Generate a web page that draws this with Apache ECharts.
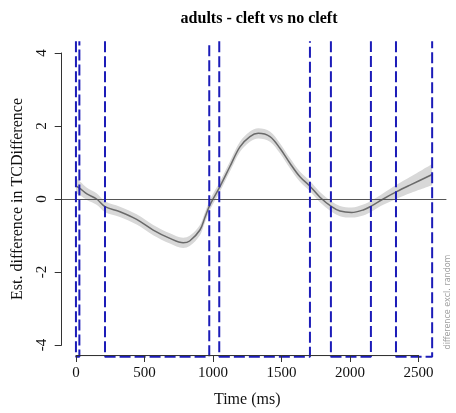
<!DOCTYPE html>
<html>
<head>
<meta charset="utf-8">
<script src="https://cdn.jsdelivr.net/npm/echarts@6/dist/echarts.min.js"></script>
<style>
  html, body { margin: 0; padding: 0; background: #fff; }
  #chart { width: 456px; height: 413px; }
</style>
</head>
<body>
<div id="chart"></div>
<script>
// Estimated difference curve (adults, cleft vs no cleft)
const timeMs = [0, 29, 80, 151, 212, 321, 443, 564, 686, 783, 830, 905, 942, 978, 1051, 1124, 1197, 1270,
                1331, 1416, 1489, 1562, 1635, 1708, 1781, 1866, 1927, 2012, 2097, 2158, 2243, 2341, 2438, 2600];
const estimate = [0.36, 0.29, 0.14, 0.00, -0.21, -0.35, -0.56, -0.85, -1.08, -1.20, -1.15, -0.85, -0.50, -0.16, 0.34, 0.89, 1.43, 1.71,
                  1.80, 1.71, 1.39, 0.98, 0.61, 0.35, 0.05, -0.21, -0.33, -0.37, -0.30, -0.19, 0.00, 0.20, 0.38, 0.67];
const ciHalfWidth = [0.20, 0.19, 0.17, 0.16, 0.15, 0.14, 0.14, 0.14, 0.14, 0.14, 0.14, 0.14, 0.14, 0.14, 0.14, 0.14, 0.14, 0.14,
                     0.14, 0.14, 0.14, 0.14, 0.14, 0.14, 0.14, 0.14, 0.14, 0.14, 0.15, 0.15, 0.16, 0.19, 0.22, 0.29];

// Windows where the difference is significant
const sigStart = [0, 212, 1046, 1861, 2336];
const sigEnd = [25, 973, 1708, 2153, 2600];

const xTickStep = 500, xTickMax = 2500;
const yTickStep = 2, yTickMin = -4, yTickMax = 4;

// R-like plot region: limits padded by 4% on each side
const X_LIM = [0, 2600], Y_LIM = [-4, 4];
const pad = lim => { const d = (lim[1] - lim[0]) * 0.04; return [lim[0] - d, lim[1] + d]; };
const xr = pad(X_LIM), yr = pad(Y_LIM);

const W = 456, H = 413;
const plot = { left: 61.7, right: 446.4, top: 41.3, bottom: 356.7 };
const xPx = v => plot.left + (v - xr[0]) / (xr[1] - xr[0]) * (plot.right - plot.left);
const yPx = v => plot.bottom - (v - yr[0]) / (yr[1] - yr[0]) * (plot.bottom - plot.top);

const serif = 'Liberation Serif';
const axisCol = '#333';
const blue = '#1c1cb8';
const smoothness = 0.35;

const upper = timeMs.map((t, i) => [t, estimate[i] + ciHalfWidth[i]]);
const lower = timeMs.map((t, i) => [t, estimate[i] - ciHalfWidth[i]]);
const fit = timeMs.map((t, i) => [t, estimate[i]]);

const sigSeries = sigStart.map((s, i) => ({
  type: 'line',
  xAxisIndex: 0, yAxisIndex: 0,
  data: [[s, yr[1]], [s, yr[0]], [sigEnd[i], yr[0]], [sigEnd[i], yr[1]]],
  symbol: 'none',
  clip: false,
  silent: true,
  z: 10,
  lineStyle: { color: blue, width: 2, type: [11, 4] }
}));

const chart = echarts.init(document.getElementById('chart'), null, { renderer: 'canvas' });
chart.setOption({
  animation: false,
  backgroundColor: '#fff',
  title: {
    text: 'adults - cleft vs no cleft',
    left: (plot.left + plot.right) / 2,
    top: 6,
    textAlign: 'center',
    textStyle: { fontFamily: serif, fontWeight: 'bold', fontSize: 16, color: '#000' }
  },
  grid: [
    { left: plot.left, right: W - plot.right, top: plot.top, bottom: H - plot.bottom },
    { left: xPx(0), right: W - xPx(xTickMax), top: plot.top, bottom: H - plot.bottom },
    { left: plot.left, right: W - plot.right, top: yPx(yTickMax), bottom: H - yPx(yTickMin) }
  ],
  xAxis: [
    { gridIndex: 0, type: 'value', min: xr[0], max: xr[1], show: false },
    {
      gridIndex: 1, type: 'value', min: 0, max: xTickMax, interval: xTickStep, z: 20,
      name: 'Time (ms)', nameLocation: 'middle', nameGap: 37,
      nameTextStyle: { fontFamily: serif, fontSize: 16, color: '#111' },
      axisLine: { show: true, onZero: false, lineStyle: { color: axisCol, width: 1 } },
      axisTick: { show: true, inside: false, length: 7, lineStyle: { color: axisCol } },
      axisLabel: { fontFamily: serif, fontSize: 15, color: '#111', margin: 11, formatter: v => String(v) },
      splitLine: { show: false }
    },
    { gridIndex: 2, type: 'value', min: xr[0], max: xr[1], show: false }
  ],
  yAxis: [
    { gridIndex: 0, type: 'value', min: yr[0], max: yr[1], show: false },
    { gridIndex: 1, type: 'value', min: yr[0], max: yr[1], show: false },
    {
      gridIndex: 2, type: 'value', min: yTickMin, max: yTickMax, interval: yTickStep, z: 20,
      name: 'Est. difference in TCDifference', nameLocation: 'middle', nameGap: 36,
      nameTextStyle: { fontFamily: serif, fontSize: 16, color: '#111' },
      axisLine: { show: true, onZero: false, lineStyle: { color: axisCol, width: 1 } },
      axisTick: { show: true, inside: false, length: 7, lineStyle: { color: axisCol } },
      axisLabel: { fontFamily: serif, fontSize: 15, color: '#111', rotate: 90, margin: 12, formatter: v => String(v) },
      splitLine: { show: false }
    }
  ],
  series: [
    // confidence band: grey fill under the upper bound, masked in white under the lower bound
    {
      type: 'line', xAxisIndex: 0, yAxisIndex: 0, data: upper,
      smooth: smoothness, symbol: 'none', silent: true, z: 1,
      lineStyle: { width: 0, opacity: 0 },
      areaStyle: { color: '#d8d8d8', opacity: 1, origin: 'start' }
    },
    {
      type: 'line', xAxisIndex: 0, yAxisIndex: 0, data: lower,
      smooth: smoothness, symbol: 'none', silent: true, z: 2,
      lineStyle: { width: 0, opacity: 0 },
      areaStyle: { color: '#ffffff', opacity: 1, origin: 'start' }
    },
    {
      type: 'line', xAxisIndex: 0, yAxisIndex: 0, data: fit,
      smooth: smoothness, symbol: 'none', silent: true, z: 3,
      lineStyle: { color: '#6a6a6a', width: 1.5 },
      markLine: {
        silent: true, symbol: 'none', label: { show: false },
        lineStyle: { color: '#555', width: 1, type: 'solid' },
        data: [{ yAxis: 0 }]
      }
    },
    ...sigSeries
  ],
  graphic: [
    {
      type: 'text', x: 448, y: 302, rotation: Math.PI / 2,
      style: {
        text: 'difference excl. random', font: '8px "DejaVu Sans"', fill: '#a0a0a0',
        align: 'center', verticalAlign: 'middle'
      }
    }
  ]
});
</script>
</body>
</html>
